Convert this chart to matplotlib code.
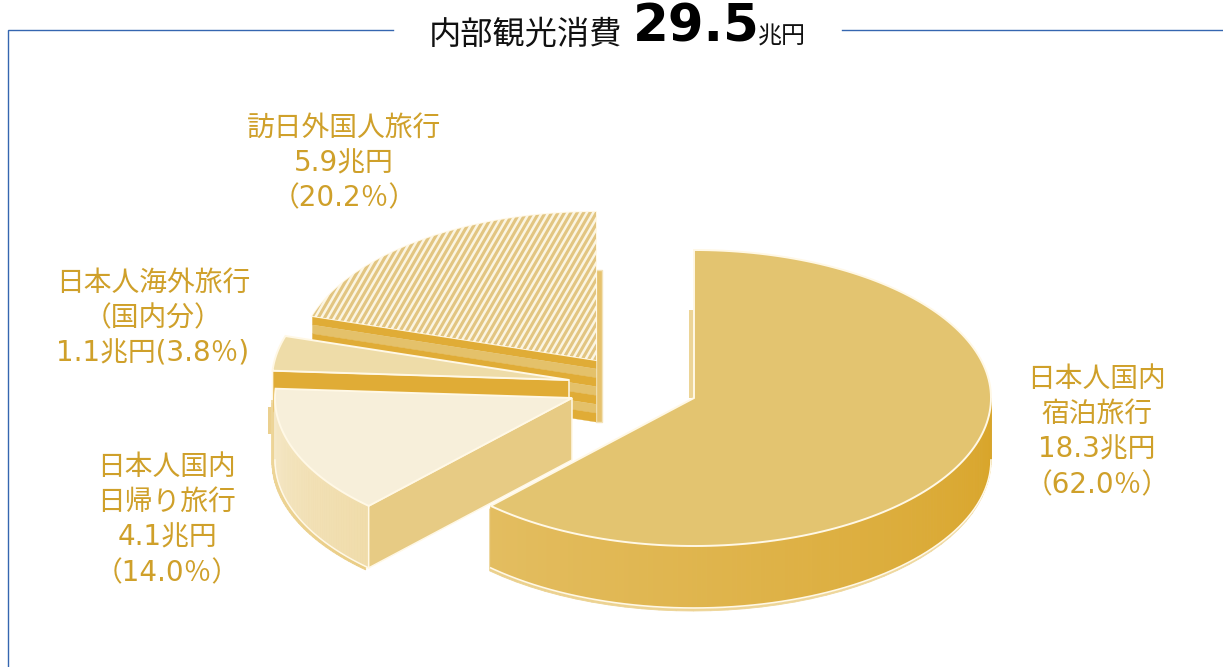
import numpy as np
import matplotlib
matplotlib.use("Agg")
import matplotlib.pyplot as plt
from matplotlib.patches import Polygon, Rectangle
from matplotlib.collections import LineCollection
from matplotlib.colors import to_rgb

FONT = ['Noto Sans CJK JP', 'DejaVu Sans']
LABEL_FONT = ['DejaVu Sans', 'Noto Sans CJK JP']
plt.rcParams['font.family'] = FONT

# data
categories = ['日本人国内\n宿泊旅行', '日本人国内\n日帰り旅行', '日本人海外旅行\n(国内分)', '訪日外国人旅行']
amounts = ['18.3兆円', '4.1兆円', '1.1兆円', '5.9兆円']
shares = [62.0, 14.0, 3.8, 20.2]
total_prefix = '内部観光消費'
total_value = '29.5'
total_unit = '兆円'

# layout (pixels)
RX, RY, DEPTH = 297, 148, 62
centers = [(694, 398), (572, 398), (569, 380), (596, 360)]
TEXT = '#CFA02A'
EDGE = '#FFF8E6'
FRAME = '#3566B0'

fig = plt.figure(figsize=(12.23, 6.67), dpi=100, facecolor='white')
ax = fig.add_axes([0, 0, 1, 1])
ax.set_xlim(0, 1223)
ax.set_ylim(667, 0)
ax.axis('off')

# slice angles, clockwise from 12 o'clock
edges = np.concatenate([[0], np.cumsum(shares)]) / sum(shares) * 2 * np.pi


def rim(c, a):
    a = np.asarray(a)
    return np.column_stack([c[0] + RX * np.sin(a), c[1] - RY * np.cos(a)])


def top_pts(c, a0, a1):
    return np.vstack([[c], rim(c, np.linspace(a0, a1, 160))])


def mix(c0, c1, t):
    c0, c1 = np.array(to_rgb(c0)), np.array(to_rgb(c1))
    return tuple(c0 + (c1 - c0) * t)


def outer_side(c, a0, a1, col0, col1, n=120, dx=0, dy=0, z=1):
    """gradient rim of a wedge between two angles"""
    aa = np.linspace(a0, a1, n + 1)
    for i in range(n):
        p = rim(c, aa[i:i + 2]) + [dx, dy]
        q = np.vstack([p, p[::-1] + [0, DEPTH]])
        ax.add_patch(Polygon(q, closed=True, fc=mix(col0, col1, i / (n - 1)),
                             ec=mix(col0, col1, i / (n - 1)), lw=0.6, zorder=z))


def radial_face(c, a, col, z):
    p = rim(c, [a])[0]
    q = [c, p, (p[0], p[1] + DEPTH), (c[0], c[1] + DEPTH)]
    ax.add_patch(Polygon(q, closed=True, fc=col, ec=EDGE, lw=1.1, zorder=z))


def top_face(c, a0, a1, col, z):
    return ax.add_patch(Polygon(top_pts(c, a0, a1), closed=True, fc=col, ec=EDGE, lw=1.4, zorder=z))


# --- 20.2 % slice (back) ---
c = centers[3]
a0, a1 = edges[3], edges[4]
ax.add_patch(Rectangle((c[0], c[1] - 90), 6, 90 + DEPTH, fc='#E6C26E', ec='#F3E2B8', lw=1, zorder=1))
p = rim(c, [a0])[0]
bands = ['#E0AC36', '#E4C16A'] * 3 + ['#E0AC36']
bh = DEPTH / len(bands)
for i, col in enumerate(bands):
    q = [(p[0], p[1] + i * bh), (c[0], c[1] + i * bh),
         (c[0], c[1] + (i + 1) * bh), (p[0], p[1] + (i + 1) * bh)]
    ax.add_patch(Polygon(q, closed=True, fc=col, ec=col, lw=0.2, zorder=2))
w = top_face(c, a0, a1, '#FBF5E2', 3)
xs = np.arange(c[0] - 420, c[0] + 120, 6.4)
segs = [[(x, 420), (x + 150, 160)] for x in xs]
lc = LineCollection(segs, colors='#E2C581', linewidths=2.2, zorder=4)
ax.add_collection(lc)
lc.set_clip_path(w)

# --- 3.8 % slice ---
c = centers[2]
a0, a1 = edges[2], edges[3]
p = rim(c, [a0])[0]
ax.add_patch(Rectangle((p[0] - 5, p[1] + 36), 5, 27, fc='#EBD08F', ec='none', zorder=5))
radial_face(c, a0, '#E0AC36', 6)
top_face(c, a0, a1, '#EEDCA8', 7)

# --- 14.0 % slice ---
c = centers[1]
a0, a1 = edges[1], edges[2]
outer_side(c, a0, 1.5 * np.pi, '#EACD85', '#EDD598', n=40, dx=-3, dy=2, z=8)
outer_side(c, a0, 1.5 * np.pi, '#F0DCAA', '#F5E8C8', n=60, z=9)
bottom = rim(c, np.linspace(a0, 1.5 * np.pi, 60)) + [0, DEPTH]
ax.plot(bottom[:, 0], bottom[:, 1], color=EDGE, lw=1.1, zorder=10)
radial_face(c, a0, '#E7CB84', 10)
top_face(c, a0, a1, '#F7EFDA', 11)

# --- 62.0 % slice (front) ---
c = centers[0]
a0, a1 = edges[0], edges[1]
ax.add_patch(Rectangle((c[0] - 5, c[1] - 88), 5, 88, fc='#ECD496', ec='none', zorder=12))
outer_side(c, np.pi / 2, a1, '#F0DBA6', '#EBD08C', n=40, dx=-1, dy=3, z=12)
outer_side(c, np.pi / 2, a1, '#D8A428', '#E3BD60', n=140, z=13)
bottom = rim(c, np.linspace(np.pi / 2, a1, 140)) + [0, DEPTH]
ax.plot(bottom[:, 0], bottom[:, 1], color=EDGE, lw=1.2, zorder=14)
top_face(c, a0, a1, '#E3C470', 15)

# --- labels ---
label_pos = [(1097, 432), (167, 520), (153, 318), (344, 163)]
for cat, amt, sh, (x, y), i in zip(categories, amounts, shares, label_pos, range(4)):
    if i == 2:
        s = f'{cat.replace("(", "（").replace(")", "）")}\n{amt}({sh}％)'
    else:
        s = f'{cat}\n{amt}\n（{sh}％）'
    ax.text(x, y, s, ha='center', va='center', color=TEXT, fontsize=20,
            linespacing=1.34, zorder=20, family=LABEL_FONT)

# --- frame and title ---
ax.plot([393, 8, 8], [30, 30, 667], color=FRAME, lw=1.0, zorder=0, solid_joinstyle='miter')
ax.plot([842, 1223], [30, 30], color=FRAME, lw=1.0, zorder=0)
ax.text(429, 35, total_prefix, ha='left', va='center', fontsize=23.2, color='#111111', family=FONT)
ax.text(633, 28, total_value, ha='left', va='center', fontsize=37, fontweight='bold',
        color='black', family='DejaVu Sans')
ax.text(758, 37, total_unit, ha='left', va='center', fontsize=17.3, color='#111111', family=FONT)

fig.savefig('out.png', dpi=100, facecolor='white')
